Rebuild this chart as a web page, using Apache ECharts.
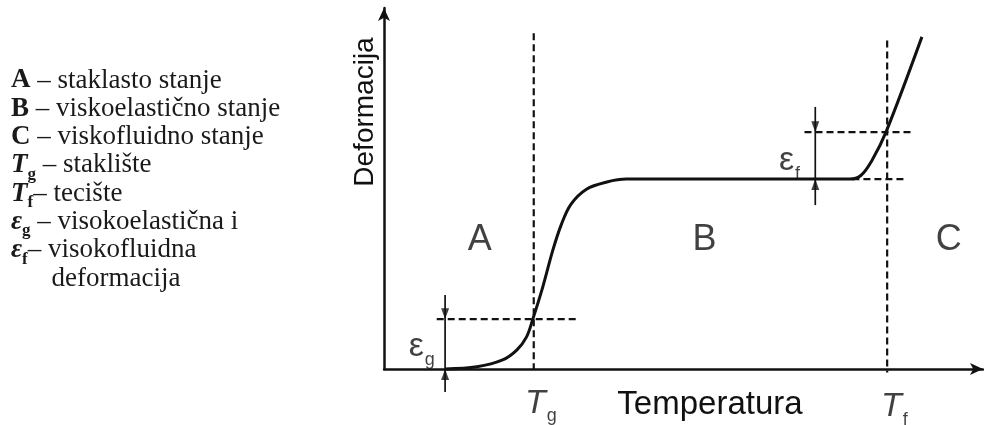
<!DOCTYPE html>
<html><head><meta charset="utf-8">
<script src="https://cdn.jsdelivr.net/npm/echarts@6/dist/echarts.min.js"></script>
<style>html,body{margin:0;padding:0;background:#fff}#c{width:984px;height:425px}</style>
</head><body><div id="c"></div>
<script>
// Curve: deformation vs temperature (arbitrary units 0-100)
const curveTemp = [10.2, 15.5, 19.8, 22.2, 23.8, 24.8, 26.5, 28.2, 29.6, 31.2, 33.8, 37.2, 40.5, 50.0, 65.0, 77.7, 79.6, 81.5, 83.8, 89.8];
const curveDef  = [0.0, 0.6, 2.5, 5.3, 8.9, 13.6, 22.7, 33.0, 40.0, 45.6, 49.8, 51.8, 52.6, 52.6, 52.6, 52.6, 53.6, 57.9, 65.6, 92.0];

// Characteristic temperatures and deformation levels
const Tg = 25, Tf = 84;
const TgLineTop = 93, TfLineTop = 91, TfLineBottom = -1;
const epsGLevels = [0, 13.8];
const epsFLevels = [52.6, 65.6];
const epsGGuideX = [8.8, 32.3];
const epsFUpperGuideX = [70.2, 88.2];
const epsFLowerGuideX = [78.2, 87.2];
const epsGDimX = 10.2, epsGDimY = [20.5, -6.4];
const epsFDimX = 72.0, epsFDimY = [72.6, 45.4];

// Region labels
const regionNames = ['A', 'B', 'C'];
const regionTemp = [16, 53.5, 94.3];
const regionDef = [35.7, 35.7, 35.7];

// Point labels
const markNames = ['{t|T}{s|g}', '{t|T}{s|f}', '{e|ε}{s|g}', '{e|ε}{s|f}'];
const markTemp = [26.2, 85.2, 6.3, 67.7];
const markDef = [-9.5, -10.5, 6.5, 58.0];

// Legend text lines
const legendLines = [
  '{b|A} – staklasto stanje',
  '{b|B} – viskoelastično stanje',
  '{b|C} – viskofluidno stanje',
  '{ti|T}{sb|g} – staklište',
  '{ti|T}{sb|f}– tecište',
  '{ti|ε}{sb|g} – visokoelastična i',
  '{ti|ε}{sb|f}– visokofluidna',
  '      deformacija'
];

const ink = '#111';
const curveData = curveTemp.map((t, i) => [t, curveDef[i]]);
const dashed = {color: ink, width: 2.2, type: [7, 4]};

function lineSeries(data, style) {
  return {type: 'line', data, symbol: 'none', lineStyle: style, clip: false, silent: true, animation: false};
}

const series = [
  {type: 'line', data: curveData, symbol: 'none', smooth: 0.35,
   lineStyle: {color: ink, width: 3}, animation: false, clip: false},
  lineSeries([[Tg, TgLineTop], [Tg, 0]], dashed),
  lineSeries([[Tf, TfLineTop], [Tf, TfLineBottom]], dashed),
  lineSeries([[epsGGuideX[0], epsGLevels[1]], [epsGGuideX[1], epsGLevels[1]]], dashed),
  lineSeries([[epsFUpperGuideX[0], epsFLevels[1]], [epsFUpperGuideX[1], epsFLevels[1]]], dashed),
  lineSeries([[epsFLowerGuideX[0], epsFLevels[0]], [epsFLowerGuideX[1], epsFLevels[0]]], dashed),
  lineSeries([[epsGDimX, epsGDimY[0]], [epsGDimX, epsGDimY[1]]], {color: ink, width: 1.7}),
  lineSeries([[epsFDimX, epsFDimY[0]], [epsFDimX, epsFDimY[1]]], {color: ink, width: 1.7}),
  {type: 'scatter', clip: false, animation: false, symbol: 'triangle', symbolRotate: 180,
   symbolSize: [8, 11], symbolOffset: [0, -5.5], itemStyle: {color: ink},
   data: [[epsGDimX, epsGLevels[1]], [epsFDimX, epsFLevels[1]]]},
  {type: 'scatter', clip: false, animation: false, symbol: 'triangle',
   symbolSize: [8, 11], symbolOffset: [0, 5.5], itemStyle: {color: ink},
   data: [[epsGDimX, epsGLevels[0]], [epsFDimX, epsFLevels[0]]]},
  {type: 'scatter', clip: false, animation: false, symbolSize: 1, itemStyle: {color: 'rgba(0,0,0,0)'},
   data: regionNames.map((n, i) => ({name: n, value: [regionTemp[i], regionDef[i]]})),
   label: {show: true, position: 'inside', formatter: '{b}', fontSize: 36,
           fontFamily: 'Liberation Sans', color: ink}},
  {type: 'scatter', clip: false, animation: false, symbolSize: 1, itemStyle: {color: 'rgba(0,0,0,0)'},
   data: markNames.map((n, i) => ({name: n, value: [markTemp[i], markDef[i]]})),
   label: {show: true, position: 'inside', formatter: p => p.name, color: ink,
     fontFamily: 'Liberation Sans',
     rich: {
       t: {fontSize: 34, fontStyle: 'italic', fontFamily: 'Liberation Sans', color: ink, lineHeight: 34, verticalAlign: 'top'},
       e: {fontSize: 34, fontFamily: 'Liberation Sans', color: ink, lineHeight: 32, verticalAlign: 'top'},
       s: {fontSize: 18, fontFamily: 'Liberation Sans', color: ink, lineHeight: 18, padding: [21, 0, 0, 1], verticalAlign: 'top'}
     }}}
];

const legendRich = {
  b: {fontSize: 27, fontFamily: 'Liberation Serif', fontWeight: 'bold', fill: '#1a1a1a'},
  ti: {fontSize: 27, fontFamily: 'Liberation Serif', fontWeight: 'bold', fontStyle: 'italic', fill: '#1a1a1a', lineHeight: 27, verticalAlign: 'top'},
  sb: {fontSize: 17, fontFamily: 'Liberation Serif', fontWeight: 'bold', fill: '#1a1a1a', lineHeight: 17, padding: [14, 0, 0, 0], verticalAlign: 'top'}
};

const graphic = legendLines.map((txt, i) => ({
  type: 'text', left: 11, top: 67 + i * 28.3, silent: true,
  style: {text: txt, fontSize: 27, fontFamily: 'Liberation Serif', fill: '#1a1a1a', rich: legendRich}
}));
graphic.push({type: 'text', x: 365, y: 112, rotation: Math.PI / 2, silent: true,
  style: {text: 'Deformacija', fontSize: 28, fontFamily: 'Liberation Sans', fill: ink, align: 'center', verticalAlign: 'middle'}});
graphic.push({type: 'text', x: 710, y: 405, silent: true,
  style: {text: 'Temperatura', fontSize: 33, fontFamily: 'Liberation Sans', fill: ink, align: 'center', verticalAlign: 'middle'}});

const axisCommon = {
  type: 'value', min: 0, max: 100,
  axisLine: {show: true, onZero: false, symbol: ['none', 'arrow'], symbolSize: [9, 13],
             lineStyle: {color: ink, width: 2.5}},
  axisTick: {show: false}, axisLabel: {show: false}, splitLine: {show: false}
};

const chart = echarts.init(document.getElementById('c'), null, {renderer: 'canvas'});
chart.setOption({
  backgroundColor: '#fff',
  animation: false,
  grid: {left: 384, top: 8, right: 1, bottom: 56, containLabel: false},
  xAxis: axisCommon,
  yAxis: axisCommon,
  series,
  graphic
});
</script></body></html>
